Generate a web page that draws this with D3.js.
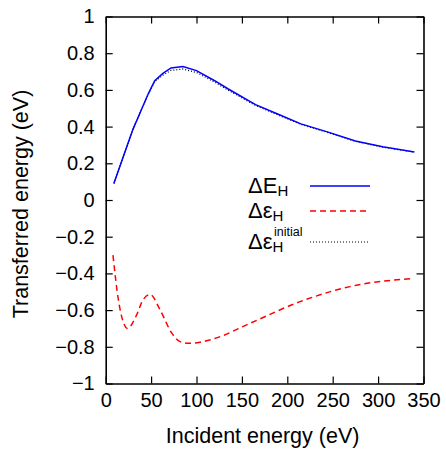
<!DOCTYPE html>
<html>
<head>
<meta charset="utf-8">
<script src="https://cdn.jsdelivr.net/npm/d3@7"></script>
<style>
  html, body { margin: 0; padding: 0; background: #fff; }
  svg { display: block; font-family: "Liberation Sans", Arial, sans-serif; }
</style>
</head>
<body>
<svg id="chart" width="446" height="449"></svg>
<script>
// ---- data ----
const xTicks = [0, 50, 100, 150, 200, 250, 300, 350];
const yTicks = [-1, -0.8, -0.6, -0.4, -0.2, 0, 0.2, 0.4, 0.6, 0.8, 1];

const energyE  = [9, 20, 30, 40, 47, 54, 63, 72, 85, 100, 120, 135, 165, 190, 215, 245, 275, 305, 340];
const deltaE_H = [0.09, 0.245, 0.385, 0.50, 0.58, 0.65, 0.69, 0.72, 0.727, 0.705, 0.65, 0.605, 0.52, 0.467, 0.415, 0.37, 0.322, 0.29, 0.262];
const deltaEpsInitial = [0.09, 0.245, 0.385, 0.50, 0.578, 0.645, 0.68, 0.706, 0.714, 0.695, 0.642, 0.598, 0.515, 0.463, 0.412, 0.367, 0.32, 0.288, 0.261];

const energyEps = [8, 14, 19, 24, 34, 41, 49, 60, 73, 82, 93, 104, 120, 159, 214, 269, 339];
const deltaEps_H = [-0.30, -0.545, -0.66, -0.70, -0.627, -0.545, -0.515, -0.60, -0.727, -0.772, -0.781, -0.775, -0.755, -0.672, -0.554, -0.472, -0.427];

// ---- layout ----
const svg = d3.select("#chart");
const x = d3.scaleLinear().domain([0, 350]).range([105.7, 423.5]);
const y = d3.scaleLinear().domain([-1, 1]).range([383.5, 16.5]);
const fs = 20;

// axes with inward ticks
const gx = svg.append("g").attr("transform", `translate(0,${y(-1)})`)
  .call(d3.axisBottom(x).tickValues(xTicks).tickSizeInner(-7).tickSizeOuter(0).tickPadding(9).tickFormat(d3.format("d")));
const gxt = svg.append("g").attr("transform", `translate(0,${y(1)})`)
  .call(d3.axisTop(x).tickValues(xTicks).tickSizeInner(-7).tickSizeOuter(0).tickFormat(""));
const gy = svg.append("g").attr("transform", `translate(${x(0)},0)`)
  .call(d3.axisLeft(y).tickValues(yTicks).tickSizeInner(-7).tickSizeOuter(0).tickPadding(11).tickFormat(d => d3.format("")(+d.toFixed(1))));
const gyr = svg.append("g").attr("transform", `translate(${x(350)},0)`)
  .call(d3.axisRight(y).tickValues(yTicks).tickSizeInner(-7).tickSizeOuter(0).tickFormat(""));

[gx, gxt, gy, gyr].forEach(g => {
  g.selectAll(".domain").attr("stroke", "#000").attr("stroke-width", 1.6);
  g.selectAll(".tick line").attr("stroke", "#000").attr("stroke-width", 1.2);
  g.selectAll("text").attr("font-size", fs).attr("fill", "#000").attr("font-family", "Liberation Sans, Arial, sans-serif");
});

// axis titles
svg.append("text").attr("x", (x(0) + x(350)) / 2 - 2).attr("y", 443)
  .attr("text-anchor", "middle").attr("font-size", 21.5).text("Incident energy (eV)");
svg.append("text").attr("transform", `translate(28,${(y(-1) + y(1)) / 2 + 4}) rotate(-90)`)
  .attr("text-anchor", "middle").attr("font-size", 21.5).text("Transferred energy (eV)");

// lines
const lineE = d3.line().x((d, i) => x(energyE[i])).y(d => y(d));
const lineEps = d3.line().x((d, i) => x(energyEps[i])).y(d => y(d)).curve(d3.curveMonotoneX);

svg.append("path").attr("d", lineE(deltaEpsInitial)).attr("fill", "none")
  .attr("stroke", "#000").attr("stroke-width", 1.2).attr("stroke-dasharray", "1,2");
svg.append("path").attr("d", lineE(deltaE_H)).attr("fill", "none")
  .attr("stroke", "#0000ff").attr("stroke-width", 1.5);
svg.append("path").attr("d", lineEps(deltaEps_H)).attr("fill", "none")
  .attr("stroke", "#ff0000").attr("stroke-width", 1.5).attr("stroke-dasharray", "6,4");

// legend
const legend = [
  { main: "ΔE", sub: "H", sup: null, color: "#0000ff", dash: null, y: 186 },
  { main: "Δε", sub: "H", sup: null, color: "#ff0000", dash: "6,4", y: 211 },
  { main: "Δε", sub: "H", sup: "initial", color: "#000", dash: "1,2", y: 242 }
];
legend.forEach(l => {
  const t = svg.append("text").attr("x", 248).attr("y", l.y + 7).attr("font-size", 22);
  t.append("tspan").text(l.main);
  t.append("tspan").attr("font-size", 15).attr("dy", 3).text(l.sub);
  if (l.sup) {
    t.append("tspan").attr("font-size", 12.5).attr("x", 274).attr("dy", -16.5).text(l.sup);
  }
  svg.append("line").attr("x1", 310).attr("x2", 370).attr("y1", l.y).attr("y2", l.y)
    .attr("stroke", l.color).attr("stroke-width", l.dash === "1,2" ? 1.2 : 1.5)
    .attr("stroke-dasharray", l.dash);
});
</script>
</body>
</html>
